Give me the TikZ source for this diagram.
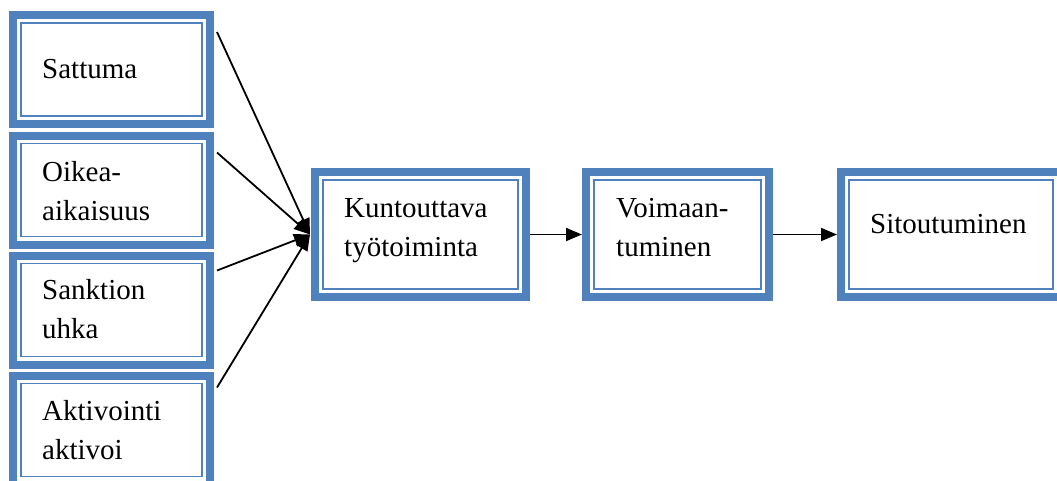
\documentclass[tikz,border=0pt]{standalone}
\usepackage{fontspec}
\setmainfont{Liberation Serif}
\usetikzlibrary{arrows.meta}
\definecolor{boxblue}{RGB}{79,129,189}
\begin{document}
\begin{tikzpicture}[x=1pt,y=-1pt,
  bbox/.style={rectangle, draw=boxblue, line width=8pt, fill=white, inner sep=0pt, minimum height=109pt},
  lbl/.style={anchor=base west, inner sep=0pt, align=left, font=\fontsize{29}{38.5}\selectfont},
  conn/.style={line width=1.8pt, -{Triangle[length=16pt,width=13pt]}}]
\useasboundingbox (0,0) rectangle (1057,480);
\clip (0,0) rectangle (1057,480);
\node[bbox, minimum width=197pt] (s1) at (111.5,69.5) {};
\node[bbox, minimum width=197pt] (s2) at (111.5,190) {};
\node[bbox, minimum width=197pt] (s3) at (111.5,310) {};
\node[bbox, minimum width=197pt] (s4) at (111.5,430) {};
\node[bbox, minimum width=211pt, minimum height=125pt] (k) at (420.5,234.5) {};
\node[bbox, minimum width=183pt, minimum height=125pt] (v) at (677.5,234.5) {};
\node[bbox, minimum width=220pt, minimum height=125pt] (t) at (951,234.5) {};
\foreach \n in {s1,s2,s3,s4,k,v,t}
  \draw[boxblue, line width=1.8pt] ([shift={(12,12)}]\n.north west) rectangle ([shift={(-12,-12)}]\n.south east);
\node[lbl] (ts1) at (42,78) {Sattuma};
\node[lbl] (ts2) at (42,220) {Oikea-\\aikaisuus};
\node[lbl] (ts3) at (42,338) {Sanktion\\uhka};
\node[lbl] (ts4) at (42,459) {Aktivointi\\aktivoi};
\node[lbl] (tk) at (344,256) {Kuntouttava\\työtoiminta};
\node[lbl] (tv) at (616,256) {Voimaan-\\tuminen};
\node[lbl] (tt) at (870,233) {Sitoutuminen};
\draw[conn] ([shift={(3,21)}]s1.north east) -- ([xshift=-1]k.west);
\draw[conn] ([shift={(3,21)}]s2.north east) -- ([xshift=-1]k.west);
\draw[conn] ([shift={(3,19)}]s3.north east) -- ([xshift=-1]k.west);
\draw[conn] ([shift={(3,16)}]s4.north east) -- ([xshift=-1]k.west);
\draw[conn] (k.east) -- (v.west);
\draw[conn] (v.east) -- (t.west);
\end{tikzpicture}
\end{document}
